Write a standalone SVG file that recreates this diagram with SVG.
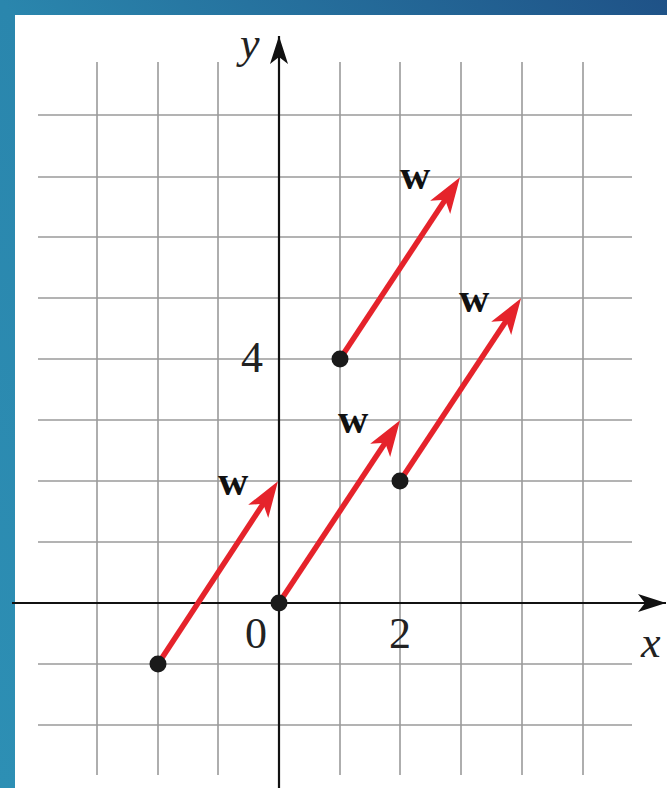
<svg xmlns="http://www.w3.org/2000/svg" width="667" height="788" viewBox="0 0 667 788">
<defs>
<linearGradient id="bg" x1="0" y1="1" x2="1" y2="0">
<stop offset="0" stop-color="#2d8fb4"/>
<stop offset="0.5" stop-color="#2a86ad"/>
<stop offset="1" stop-color="#1f5287"/>
</linearGradient>
<marker id="ah" markerUnits="userSpaceOnUse" markerWidth="42" markerHeight="30" viewBox="-20 -15 42 30" refX="0" refY="0" orient="auto" overflow="visible">
<path d="M20,0 L-16,-12 L-7,0 L-16,12 Z" fill="#e5232b"/>
</marker>
<marker id="axh" markerUnits="userSpaceOnUse" markerWidth="32" markerHeight="22" viewBox="-30 -11 32 22" refX="0" refY="0" orient="auto" overflow="visible">
<path d="M0,0 L-28,-9 L-21,0 L-28,9 Z" fill="#111"/>
</marker>
</defs>
<style>
.grid line{stroke:#9a9a9a;stroke-width:1.6}
.axis{stroke:#111;stroke-width:2.2}
.vec{stroke:#e5232b;stroke-width:5.5;fill:none}
.dot{fill:#1a1a1a}
.num{font-family:"Liberation Serif",serif;font-size:44px;fill:#222}
.var{font-family:"Liberation Serif",serif;font-size:44px;font-style:italic;fill:#222}
.lbl{font-family:"Liberation Serif",serif;font-size:42px;font-weight:bold;fill:#111}
</style>
<rect width="667" height="788" fill="url(#bg)"/>
<rect x="15" y="15" width="652" height="773" fill="#ffffff"/>
<g id="grid" class="grid">
<line x1="97" y1="62" x2="97" y2="775"/>
<line x1="158" y1="62" x2="158" y2="775"/>
<line x1="218" y1="62" x2="218" y2="775"/>
<line x1="340" y1="62" x2="340" y2="775"/>
<line x1="400" y1="62" x2="400" y2="775"/>
<line x1="461" y1="62" x2="461" y2="775"/>
<line x1="522" y1="62" x2="522" y2="775"/>
<line x1="583" y1="62" x2="583" y2="775"/>
<line x1="38" y1="115" x2="632" y2="115"/>
<line x1="38" y1="177" x2="632" y2="177"/>
<line x1="38" y1="237" x2="632" y2="237"/>
<line x1="38" y1="298" x2="632" y2="298"/>
<line x1="38" y1="359" x2="632" y2="359"/>
<line x1="38" y1="420" x2="632" y2="420"/>
<line x1="38" y1="481" x2="632" y2="481"/>
<line x1="38" y1="542" x2="632" y2="542"/>
<line x1="38" y1="664" x2="632" y2="664"/>
<line x1="38" y1="725" x2="632" y2="725"/>
</g>
<g id="axes">
<line class="axis" x1="12" y1="603" x2="666" y2="603" marker-end="url(#axh)"/>
<line class="axis" x1="279" y1="790" x2="279" y2="36" marker-end="url(#axh)"/>
<text class="var" x="240" y="58">y</text>
<text class="var" x="641" y="657">x</text>
<text class="num" x="245" y="648">0</text>
<text class="num" x="389" y="648">2</text>
<text class="num" x="241" y="372">4</text>
</g>
<g id="connectors">
<line class="vec" x1="158" y1="664" x2="267" y2="498" marker-end="url(#ah)" id="v1"/>
<line class="vec" x1="279" y1="603" x2="389" y2="437" marker-end="url(#ah)" id="v2"/>
<line class="vec" x1="340" y1="359" x2="449" y2="194" marker-end="url(#ah)" id="v3"/>
<line class="vec" x1="400" y1="481" x2="510" y2="315" marker-end="url(#ah)" id="v4"/>
</g>
<g id="node-p1"><circle class="dot" cx="158" cy="664" r="8.5"/></g>
<g id="node-p2"><circle class="dot" cx="279" cy="603" r="8.5"/></g>
<g id="node-p3"><circle class="dot" cx="340" cy="359" r="8.5"/></g>
<g id="node-p4"><circle class="dot" cx="400" cy="481" r="8.5"/></g>
<g id="labels">
<text class="lbl" x="218" y="495">w</text>
<text class="lbl" x="338" y="433">w</text>
<text class="lbl" x="400" y="189">w</text>
<text class="lbl" x="459" y="312">w</text>
</g>
</svg>
